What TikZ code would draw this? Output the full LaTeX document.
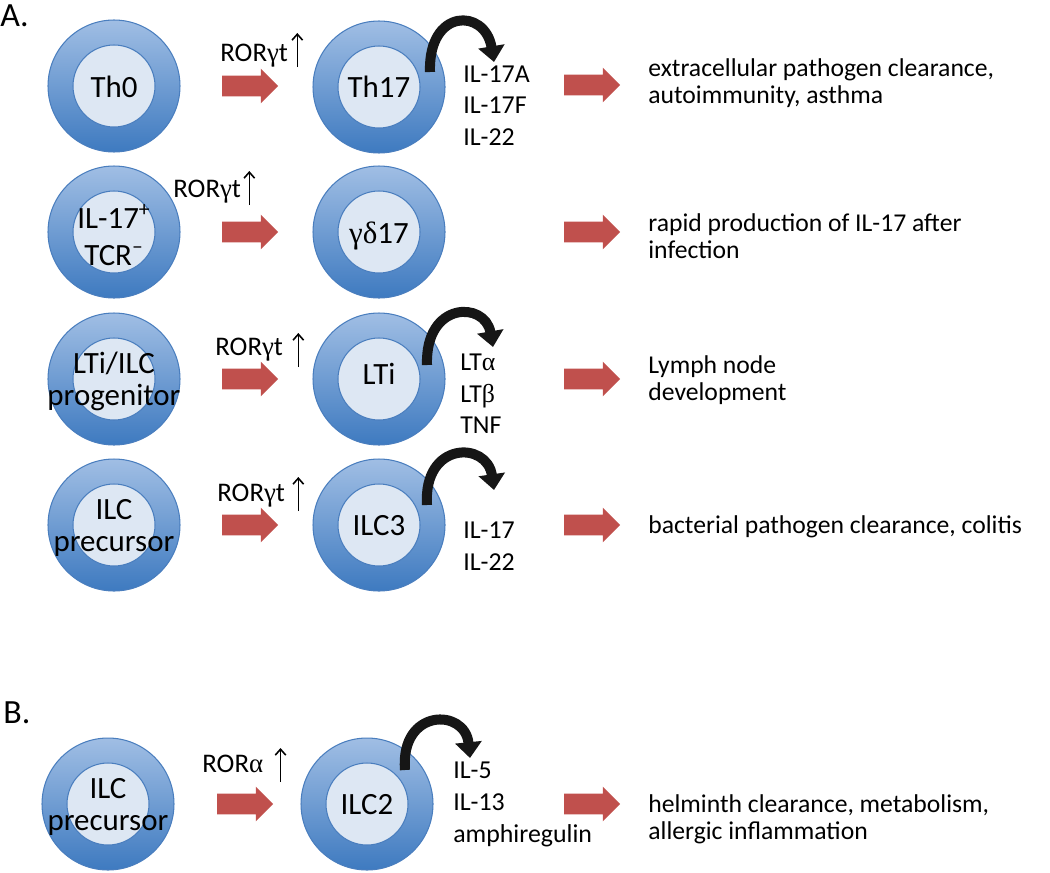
\documentclass[tikz,border=0pt]{standalone}
\usepackage{fontspec}
\setmainfont{Carlito}
\newfontfamily\grk{Liberation Serif}
\usetikzlibrary{shapes.arrows,arrows.meta,calc}
\definecolor{ringtop}{RGB}{160,190,228}
\definecolor{ringbot}{RGB}{62,122,192}
\definecolor{ringline}{RGB}{74,126,190}
\definecolor{corefill}{RGB}{221,231,243}
\definecolor{arrred}{RGB}{192,80,77}
\definecolor{arcblack}{RGB}{22,22,22}

\begin{document}
\begin{tikzpicture}[x=0.02cm,y=-0.02cm,>=latex]
	\tikzstyle{ring} = [circle, minimum size=2.64cm, inner sep=0, draw=ringline, line width=0.6pt, top color=ringtop, bottom color=ringbot]
	\tikzstyle{core} = [circle, minimum size=1.64cm, inner sep=0, draw=ringline, line width=0.6pt, fill=corefill]
	\tikzstyle{celltxt} = [anchor=base, inner sep=0, font=\fontsize{17.6}{20}\selectfont]
	\tikzstyle{cyto} = [anchor=base west, inner sep=0, font=\fontsize{14.7}{17}\selectfont]
	\tikzstyle{desc} = [anchor=base west, inner sep=0, font=\fontsize{14.6}{17}\selectfont]
	\tikzstyle{ror} = [anchor=base west, inner sep=0, font=\fontsize{15.3}{17}\selectfont]
	\tikzstyle{panel} = [anchor=base west, inner sep=0, font=\fontsize{19.3}{22}\selectfont]
	\tikzstyle{redarr} = [single arrow, fill=arrred, draw=none, inner xsep=0, inner ysep=0.2cm, minimum height=1.12cm, single arrow head extend=0.14cm, single arrow tip angle=90]
	\tikzstyle{uparr} = [-{Straight Barb[length=3.4pt,width=6pt]}, line width=0.9pt]
	\tikzstyle{secrete} = [-{Triangle[length=9pt,width=14.7pt]}, line width=5.7pt, draw=arcblack]

	\useasboundingbox (0,0) rectangle (1050,872);

	\node[panel] (lblA) at (0,27) {A.};
	\node[panel] (lblB) at (3,723) {B.};

	\node[ring] (Th0) at (114,86) {};
	\node[core] (Th0in) at (Th0) {};
	\node[celltxt] (Th0txt) at (114,97) {Th0};
	\node[redarr] (a1) at (245,86) {};
	\node[ror] (ror1) at (220,61) {ROR{\grk γ}t};
	\draw[uparr] ($(ror1.base east)+(9,6)$) -- ++(0,-34);
	\node[ring] (Th17) at (379,87) {};
	\node[core] (Th17in) at (Th17) {};
	\node[celltxt] (Th17txt) at (379,97) {Th17};
	\draw[secrete] ($(Th17)+(51,-15)$) .. controls ($(Th17)+(49,-79)$) and ($(Th17)+(106,-79)$) .. ($(Th17)+(115,-25)$);
	\node[cyto] (c1a) at (463,82) {IL-17A};
	\node[cyto] (c1b) at (463,113) {IL-17F};
	\node[cyto] (c1c) at (463,145) {IL-22};
	\node[redarr] (b1) at (587,85) {};
	\node[desc] (d1a) at (648,76) {extracellular pathogen clearance,};
	\node[desc] (d1b) at (648,103) {autoimmunity, asthma};

	\node[ring] (IL17TCR) at (114,232) {};
	\node[core] (IL17TCRin) at (IL17TCR) {};
	\node[celltxt] (IL17txt) at (114,228) {IL-17\textsuperscript{+}};
	\node[celltxt] (TCRtxt) at (114,265) {TCR\textsuperscript{–}};
	\node[redarr] (a2) at (245,232) {};
	\node[ror] (ror2) at (173,197) {ROR{\grk γ}t};
	\draw[uparr] ($(ror2.base east)+(8,8)$) -- ++(0,-34);
	\node[ring] (gd17) at (379,232) {};
	\node[core] (gd17in) at (gd17) {};
	\node[celltxt] (gd17txt) at (379,243) {{\grk γδ}17};
	\node[redarr] (b2) at (587,232) {};
	\node[desc] (d2a) at (648,231) {rapid production of IL-17 after};
	\node[desc] (d2b) at (648,258) {infection};

	\node[ring] (LTiP) at (114,379) {};
	\node[core] (LTiPin) at (LTiP) {};
	\node[celltxt] (LTiPtxt) at (114,373) {LTi/ILC};
	\node[celltxt] (progtxt) at (114,405) {progenitor};
	\node[redarr] (a3) at (245,379) {};
	\node[ror] (ror3) at (215,355) {ROR{\grk γ}t};
	\draw[uparr] ($(ror3.base east)+(15,12)$) -- ++(0,-34);
	\node[ring] (LTi) at (379,379) {};
	\node[core] (LTiin) at (LTi) {};
	\node[celltxt] (LTitxt) at (379,384) {LTi};
	\draw[secrete] ($(LTi)+(48,-14)$) .. controls ($(LTi)+(46,-78)$) and ($(LTi)+(106,-78)$) .. ($(LTi)+(114,-32)$);
	\node[cyto] (c3a) at (460,370) {LT{\grk α}};
	\node[cyto] (c3b) at (460,402) {LT{\grk β}};
	\node[cyto] (c3c) at (460,433) {TNF};
	\node[redarr] (b3) at (587,379) {};
	\node[desc] (d3a) at (648,373) {Lymph node};
	\node[desc] (d3b) at (648,400) {development};

	\node[ring] (ILCp) at (114,525) {};
	\node[core] (ILCpin) at (ILCp) {};
	\node[celltxt] (ILCptxt) at (114,519) {ILC};
	\node[celltxt] (prectxt) at (114,551) {precursor};
	\node[redarr] (a4) at (245,525) {};
	\node[ror] (ror4) at (217,501) {ROR{\grk γ}t};
	\draw[uparr] ($(ror4.base east)+(13,10)$) -- ++(0,-34);
	\node[ring] (ILC3) at (379,525) {};
	\node[core] (ILC3in) at (ILC3) {};
	\node[celltxt] (ILC3txt) at (379,535) {ILC3};
	\draw[secrete] ($(ILC3)+(48,-20)$) .. controls ($(ILC3)+(44,-84)$) and ($(ILC3)+(108,-84)$) .. ($(ILC3)+(115,-35)$);
	\node[cyto] (c4a) at (463,538) {IL-17};
	\node[cyto] (c4b) at (463,570) {IL-22};
	\node[redarr] (b4) at (587,525) {};
	\node[desc] (d4a) at (648,533) {bacterial pathogen clearance, colitis};

	\node[ring] (ILCb) at (108,804) {};
	\node[core] (ILCbin) at (ILCb) {};
	\node[celltxt] (ILCbtxt) at (108,798) {ILC};
	\node[celltxt] (precbtxt) at (108,830) {precursor};
	\node[redarr] (a5) at (240,804) {};
	\node[ror] (ror5) at (202,772) {ROR{\grk α}};
	\draw[uparr] ($(ror5.base east)+(17,10)$) -- ++(0,-34);
	\node[ring] (ILC2) at (367,804) {};
	\node[core] (ILC2in) at (ILC2) {};
	\node[celltxt] (ILC2txt) at (367,814) {ILC2};
	\draw[secrete] ($(ILC2)+(38,-34)$) .. controls ($(ILC2)+(33,-96)$) and ($(ILC2)+(98,-96)$) .. ($(ILC2)+(103,-46)$);
	\node[cyto] (c5a) at (453,778) {IL-5};
	\node[cyto] (c5b) at (453,810) {IL-13};
	\node[cyto] (c5c) at (453,842) {amphiregulin};
	\node[redarr] (b5) at (587,804) {};
	\node[desc] (d5a) at (648,812) {helminth clearance, metabolism,};
	\node[desc] (d5b) at (648,839) {allergic inflammation};
\end{tikzpicture}
\end{document}
